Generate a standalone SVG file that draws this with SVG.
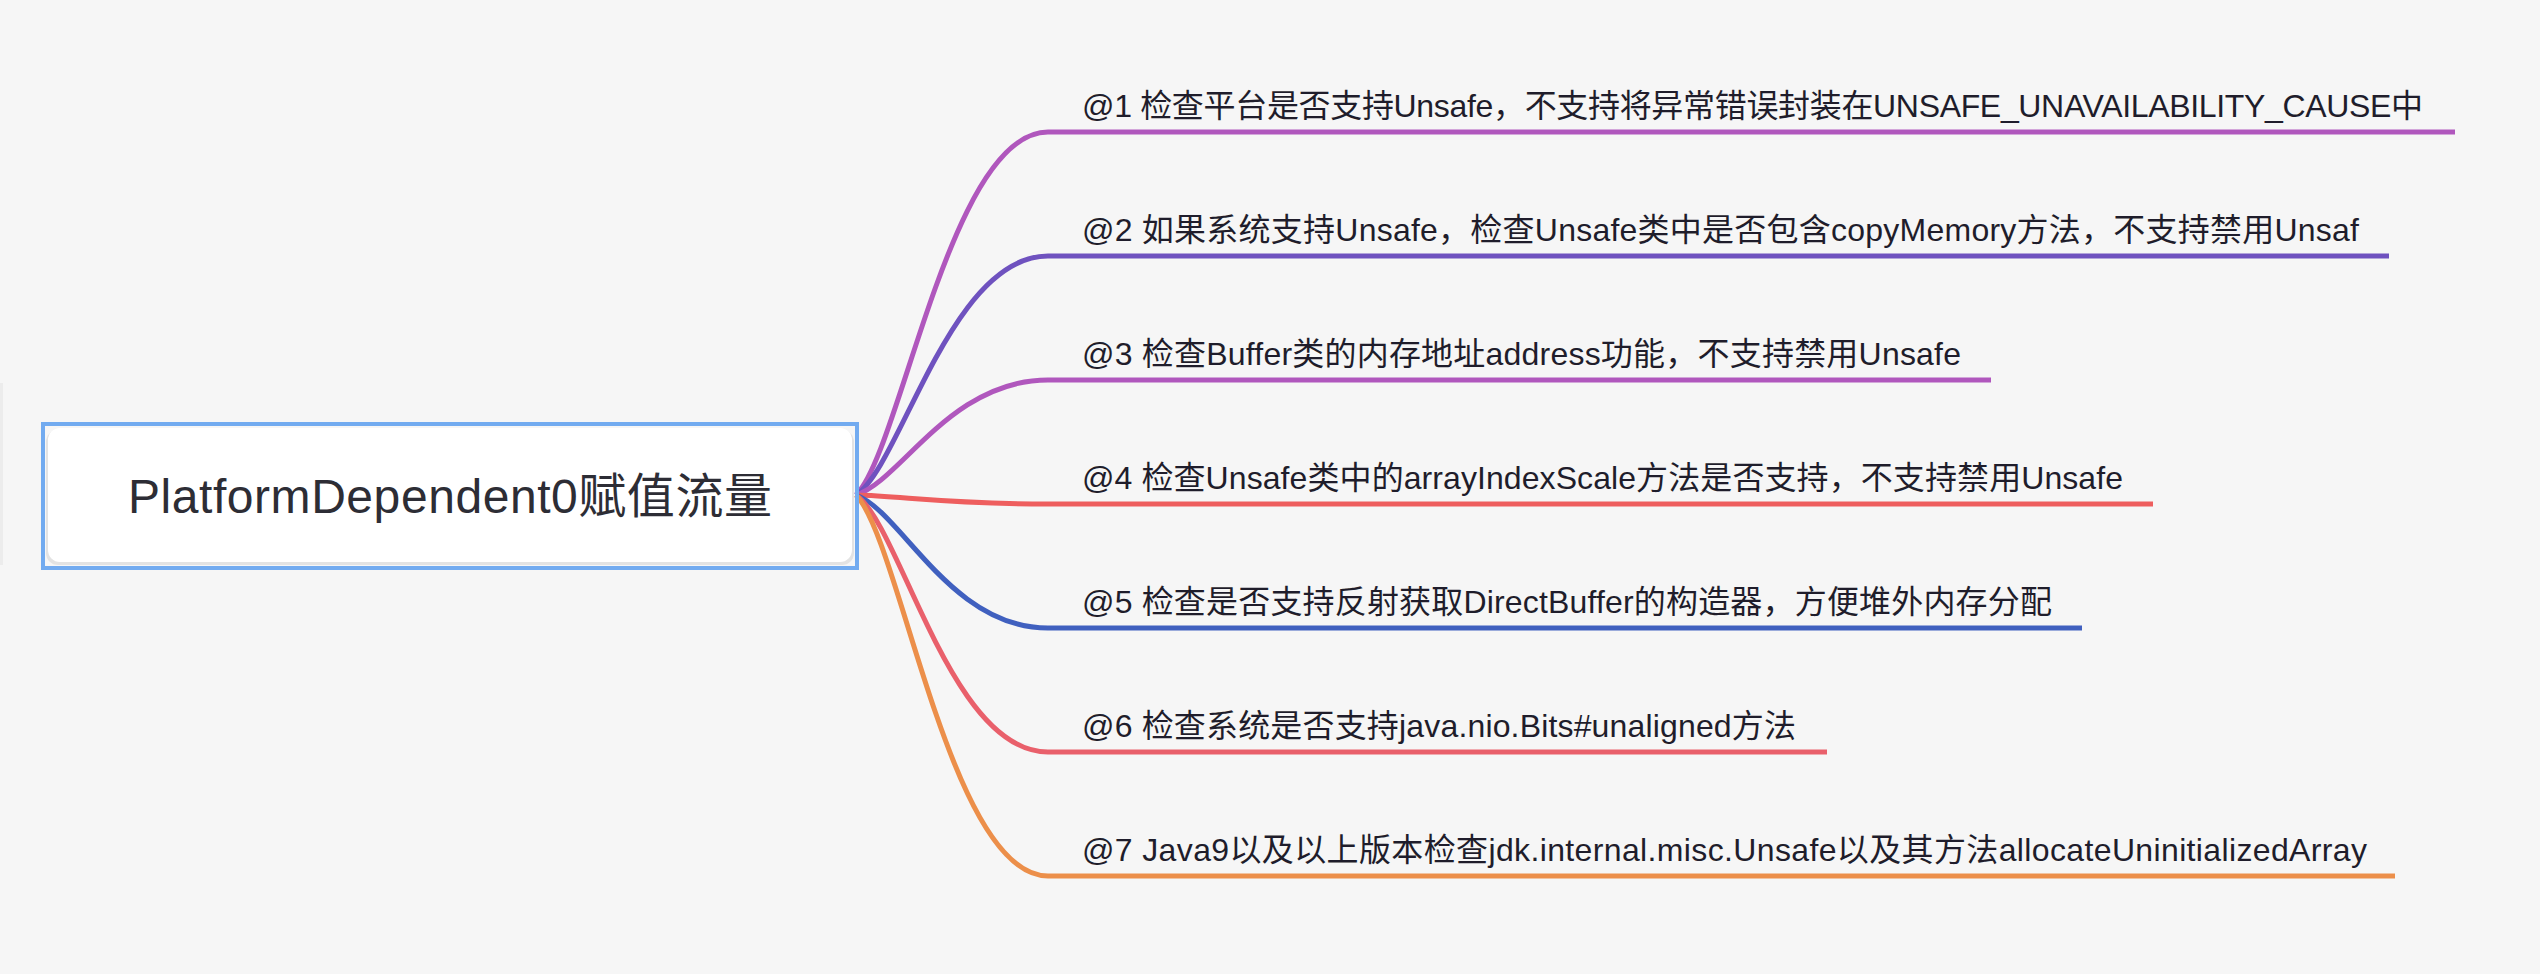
<svg xmlns="http://www.w3.org/2000/svg" width="2540" height="974" viewBox="0 0 2540 974">
  <style>
    .conn { fill: none; stroke-width: 5; stroke-linecap: butt; }
    .leaf { font-family: "Liberation Sans", "Noto Sans CJK SC", sans-serif; font-size: 32px; fill: #1f1d2b; }
    .root { font-family: "Liberation Sans", "Noto Sans CJK SC", sans-serif; font-size: 48px; fill: #2d2d35; }
  </style>
  <rect x="0" y="0" width="2540" height="974" fill="#f6f6f6"/>
  <rect x="0" y="383" width="3" height="182" fill="#ececec"/>

  <g id="connectors">
    <path class="conn" stroke="#b057bd" d="M856 495 C901 451 950 132 1048 132 H2455"/>
    <path class="conn" stroke="#6f52bf" d="M856 495 C901 466 950 256 1048 256 H2389"/>
    <path class="conn" stroke="#b057bd" d="M856 495 C901 481 950 380 1048 380 H1991"/>
    <path class="conn" stroke="#ee5e5e" d="M856 495 C901 496 950 504 1048 504 H2153"/>
    <path class="conn" stroke="#4060bf" d="M856 495 C901 511 950 628 1048 628 H2082"/>
    <path class="conn" stroke="#e9606b" d="M856 495 C901 526 950 752 1048 752 H1827"/>
    <path class="conn" stroke="#ec8f4a" d="M856 495 C901 541 950 876 1048 876 H2395"/>
  </g>

  <g id="root">
    <rect x="46" y="430" width="808" height="135" rx="12" fill="#e3e3e3"/>
    <rect x="48" y="428" width="804" height="134" rx="12" fill="#ffffff"/>
    <rect x="43" y="424" width="814" height="144" fill="none" stroke="#72abf0" stroke-width="4"/>
    <text class="root" x="128" y="513" textLength="644" lengthAdjust="spacing">PlatformDependent0赋值流量</text>
  </g>

  <g id="n1"><text class="leaf" x="1082" y="117" textLength="1341" lengthAdjust="spacing">@1 检查平台是否支持Unsafe，不支持将异常错误封装在UNSAFE_UNAVAILABILITY_CAUSE中</text></g>
  <g id="n2"><text class="leaf" x="1082" y="241" textLength="1277" lengthAdjust="spacing">@2 如果系统支持Unsafe，检查Unsafe类中是否包含copyMemory方法，不支持禁用Unsaf</text></g>
  <g id="n3"><text class="leaf" x="1082" y="365" textLength="879" lengthAdjust="spacing">@3 检查Buffer类的内存地址address功能，不支持禁用Unsafe</text></g>
  <g id="n4"><text class="leaf" x="1082" y="489" textLength="1041" lengthAdjust="spacing">@4 检查Unsafe类中的arrayIndexScale方法是否支持，不支持禁用Unsafe</text></g>
  <g id="n5"><text class="leaf" x="1082" y="613" textLength="970" lengthAdjust="spacing">@5 检查是否支持反射获取DirectBuffer的构造器，方便堆外内存分配</text></g>
  <g id="n6"><text class="leaf" x="1082" y="737" textLength="714" lengthAdjust="spacing">@6 检查系统是否支持java.nio.Bits#unaligned方法</text></g>
  <g id="n7"><text class="leaf" x="1082" y="861" textLength="1285" lengthAdjust="spacing">@7 Java9以及以上版本检查jdk.internal.misc.Unsafe以及其方法allocateUninitializedArray</text></g>
</svg>
